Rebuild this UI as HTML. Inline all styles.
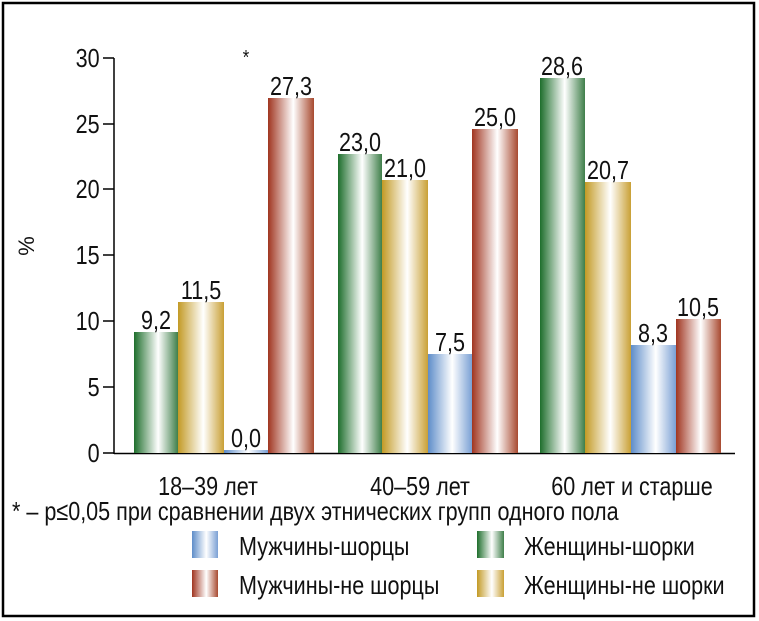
<!DOCTYPE html>
<html><head><meta charset="utf-8"><style>
body{margin:0;background:#fff}
svg{display:block}
text{font-family:"Liberation Sans",sans-serif;fill:#111}
</style></head><body>
<svg width="759" height="621" viewBox="0 0 759 621" xmlns="http://www.w3.org/2000/svg">
<defs>
<linearGradient id="g" x1="0" x2="1"><stop offset="0" stop-color="#1e6e2c"/><stop offset="0.55" stop-color="#fff"/><stop offset="1" stop-color="#3f7f4a"/></linearGradient>
<linearGradient id="y" x1="0" x2="1"><stop offset="0" stop-color="#c39a25"/><stop offset="0.55" stop-color="#fff"/><stop offset="1" stop-color="#c9a035"/></linearGradient>
<linearGradient id="b" x1="0" x2="1"><stop offset="0" stop-color="#5e8dc9"/><stop offset="0.55" stop-color="#fff"/><stop offset="1" stop-color="#7aa0d4"/></linearGradient>
<linearGradient id="r" x1="0" x2="1"><stop offset="0" stop-color="#a03520"/><stop offset="0.55" stop-color="#fff"/><stop offset="1" stop-color="#a84a30"/></linearGradient>
</defs>
<rect x="3" y="3" width="751" height="613" fill="none" stroke="#000" stroke-width="2.5"/>
<g stroke="#000" stroke-width="1.5">
<line x1="114" y1="58" x2="114" y2="454"/>
<line x1="114" y1="453.5" x2="735" y2="453.5"/>
<line x1="103" y1="58" x2="114" y2="58"/><line x1="103" y1="124" x2="114" y2="124"/>
<line x1="103" y1="189" x2="114" y2="189"/><line x1="103" y1="255" x2="114" y2="255"/>
<line x1="103" y1="321" x2="114" y2="321"/><line x1="103" y1="387" x2="114" y2="387"/>
<line x1="103" y1="453" x2="114" y2="453"/>
</g>
<g font-size="26" text-anchor="end" transform="scale(0.83,1)">
<text x="120" y="67">30</text><text x="120" y="133">25</text><text x="120" y="198">20</text>
<text x="120" y="264">15</text><text x="120" y="330">10</text><text x="120" y="396">5</text><text x="120" y="462">0</text>
</g>
<text font-size="22" transform="translate(34,246) rotate(-90)" text-anchor="middle">%</text>
<rect x="134" y="332" width="44" height="121" fill="url(#g)"/>
<rect x="178" y="302" width="46" height="151" fill="url(#y)"/>
<rect x="224" y="450" width="44" height="3" fill="url(#b)"/>
<rect x="268" y="98" width="46" height="355" fill="url(#r)"/>
<rect x="338" y="154" width="44" height="299" fill="url(#g)"/>
<rect x="382" y="180" width="46" height="273" fill="url(#y)"/>
<rect x="428" y="354" width="44" height="99" fill="url(#b)"/>
<rect x="472" y="129" width="46" height="324" fill="url(#r)"/>
<rect x="540" y="78" width="45" height="375" fill="url(#g)"/>
<rect x="585" y="182" width="46" height="271" fill="url(#y)"/>
<rect x="631" y="345" width="45" height="108" fill="url(#b)"/>
<rect x="676" y="319" width="45" height="134" fill="url(#r)"/>
<g font-size="26" text-anchor="middle">
<text transform="translate(156,329) scale(0.83,1)">9,2</text>
<text transform="translate(201,299) scale(0.83,1)">11,5</text>
<text transform="translate(246,447) scale(0.83,1)">0,0</text>
<text transform="translate(291,95) scale(0.83,1)">27,3</text>
<text transform="translate(360,151) scale(0.83,1)">23,0</text>
<text transform="translate(405,177) scale(0.83,1)">21,0</text>
<text transform="translate(450,351) scale(0.83,1)">7,5</text>
<text transform="translate(495,126) scale(0.83,1)">25,0</text>
<text transform="translate(562,75) scale(0.83,1)">28,6</text>
<text transform="translate(608,179) scale(0.83,1)">20,7</text>
<text transform="translate(653,342) scale(0.83,1)">8,3</text>
<text transform="translate(698,316) scale(0.83,1)">10,5</text>
<text transform="translate(246,64) scale(0.83,1)" font-size="20">*</text>
<text transform="translate(208,495) scale(0.83,1)">18–39 лет</text>
<text transform="translate(420,495) scale(0.83,1)">40–59 лет</text>
<text transform="translate(632,495) scale(0.83,1)">60 лет и старше</text>
</g>
<g font-size="26">
<text transform="translate(12,520) scale(0.83,1)">* – p≤0,05 при сравнении двух этнических групп одного пола</text>
<rect x="192" y="531" width="26" height="27" fill="url(#b)"/>
<rect x="192" y="570" width="26" height="27" fill="url(#r)"/>
<rect x="477" y="531" width="27" height="27" fill="url(#g)"/>
<rect x="477" y="570" width="27" height="27" fill="url(#y)"/>
<text transform="translate(239,555) scale(0.83,1)">Мужчины-шорцы</text>
<text transform="translate(239,594) scale(0.83,1)">Мужчины-не шорцы</text>
<text transform="translate(524,555) scale(0.83,1)">Женщины-шорки</text>
<text transform="translate(524,594) scale(0.83,1)">Женщины-не шорки</text>
</g>
</svg>
</body></html>
